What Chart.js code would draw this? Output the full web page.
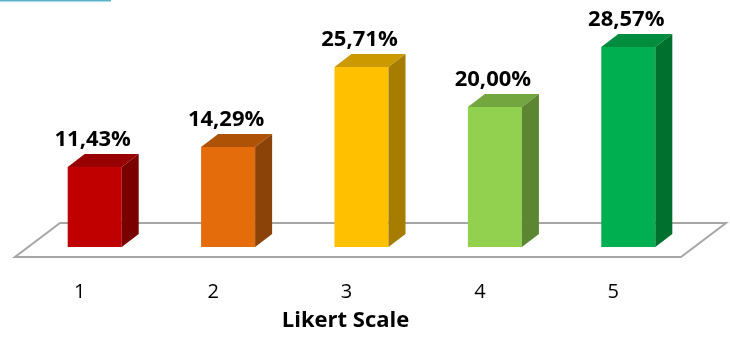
<!DOCTYPE html>
<html>
<head>
<meta charset="utf-8">
<script src="https://cdn.jsdelivr.net/npm/chart.js@4/dist/chart.umd.min.js"></script>
<style>
  html, body { margin: 0; padding: 0; background: #fff; }
  #wrap { width: 730px; height: 354px; position: relative; }
</style>
</head>
<body>
<div id="wrap"><canvas id="likertChart" width="730" height="354"></canvas></div>
<script>
const categories = ["1", "2", "3", "4", "5"];
const shares = [11.43, 14.29, 25.71, 20.00, 28.57];
const axisTitle = "Likert Scale";

// face colours per bar: front, top, right side
const frontColors = ["#C00000", "#E46C0A", "#FFC000", "#92D050", "#00B050"];
const topColors = ["#990000", "#AE5306", "#CC9A00", "#74A640", "#008C3E"];
const sideColors = ["#7A0000", "#8C4307", "#A67D00", "#5C8632", "#00702F"];

const DEPTH_X = 17;
const DEPTH_Y = -13;

function fmtPct(v) {
  return v.toFixed(2).replace(".", ",") + "%";
}

// white floor plate under the bars
const floorPlugin = {
  id: "floor",
  beforeDatasetsDraw(chart) {
    const ctx = chart.ctx;
    const area = chart.chartArea;
    const base = chart.scales.y.getPixelForValue(0);
    const fl = area.left - 13, fr = area.right - 14;
    const fy = base + 10;
    ctx.save();
    ctx.beginPath();
    ctx.moveTo(fl, fy);
    ctx.lineTo(fr, fy);
    ctx.lineTo(fr + 45, fy - 34);
    ctx.lineTo(fl + 45, fy - 34);
    ctx.closePath();
    ctx.fillStyle = "#ffffff";
    ctx.fill();
    ctx.strokeStyle = "#A6A6A6";
    ctx.lineWidth = 2;
    ctx.stroke();
    ctx.restore();
  }
};

// top and side faces + value labels
const boxPlugin = {
  id: "box3d",
  afterDatasetsDraw(chart) {
    const ctx = chart.ctx;
    const meta = chart.getDatasetMeta(0);
    ctx.save();
    meta.data.forEach((bar, i) => {
      const p = bar.getProps(["x", "y", "base", "width"], true);
      const l = p.x - p.width / 2, r = p.x + p.width / 2;
      // top
      ctx.beginPath();
      ctx.moveTo(l, p.y);
      ctx.lineTo(r, p.y);
      ctx.lineTo(r + DEPTH_X, p.y + DEPTH_Y);
      ctx.lineTo(l + DEPTH_X, p.y + DEPTH_Y);
      ctx.closePath();
      ctx.fillStyle = topColors[i];
      ctx.fill();
      // right side
      ctx.beginPath();
      ctx.moveTo(r, p.y);
      ctx.lineTo(r + DEPTH_X, p.y + DEPTH_Y);
      ctx.lineTo(r + DEPTH_X, p.base + DEPTH_Y);
      ctx.lineTo(r, p.base);
      ctx.closePath();
      ctx.fillStyle = sideColors[i];
      ctx.fill();

      ctx.fillStyle = "#000";
      ctx.font = "bold 22px 'Open Sans'";
      ctx.textAlign = "center";
      ctx.textBaseline = "middle";
      ctx.fillText(fmtPct(shares[i]), p.x - 2, p.y - 27);
    });
    ctx.restore();
  }
};

// thin accent line along the top edge
const accentPlugin = {
  id: "accent",
  beforeDraw(chart) {
    const ctx = chart.ctx;
    ctx.save();
    ctx.fillStyle = "#5BB3CE";
    ctx.fillRect(0, 0, 111, 1.5);
    ctx.restore();
  },
  afterLayout(chart) {
    // axis title sits a little left of centre, like the tick labels
    const sx = chart.scales.x;
    if (sx && !sx._shifted) {
      const orig = sx.drawTitle.bind(sx);
      sx.drawTitle = function () {
        const c = this.ctx;
        c.save();
        c.translate(-16, 0);
        orig();
        c.restore();
      };
      sx._shifted = true;
    }
  }
};

new Chart(document.getElementById("likertChart"), {
  type: "bar",
  data: {
    labels: categories,
    datasets: [{
      data: shares,
      backgroundColor: frontColors,
      borderWidth: 0,
      categoryPercentage: 1,
      barPercentage: 0.405
    }]
  },
  options: {
    responsive: false,
    animation: false,
    layout: { padding: { left: 28, right: 35, top: 9, bottom: 0 } },
    plugins: { legend: { display: false }, tooltip: { enabled: false } },
    scales: {
      x: {
        grid: { display: false },
        border: { display: false },
        ticks: {
          color: "#000",
          font: { family: "'Open Sans'", size: 20 },
          padding: 25,
          labelOffset: -15
        },
        title: {
          display: true,
          text: axisTitle,
          color: "#000",
          font: { family: "'Open Sans'", size: 22, weight: "bold" },
          padding: { top: 0, bottom: 20 }
        },
        afterFit(scale) { scale.height = 107; }
      },
      y: {
        display: false,
        min: 0,
        max: 34
      }
    }
  },
  plugins: [accentPlugin, floorPlugin, boxPlugin]
});
</script>
</body>
</html>
